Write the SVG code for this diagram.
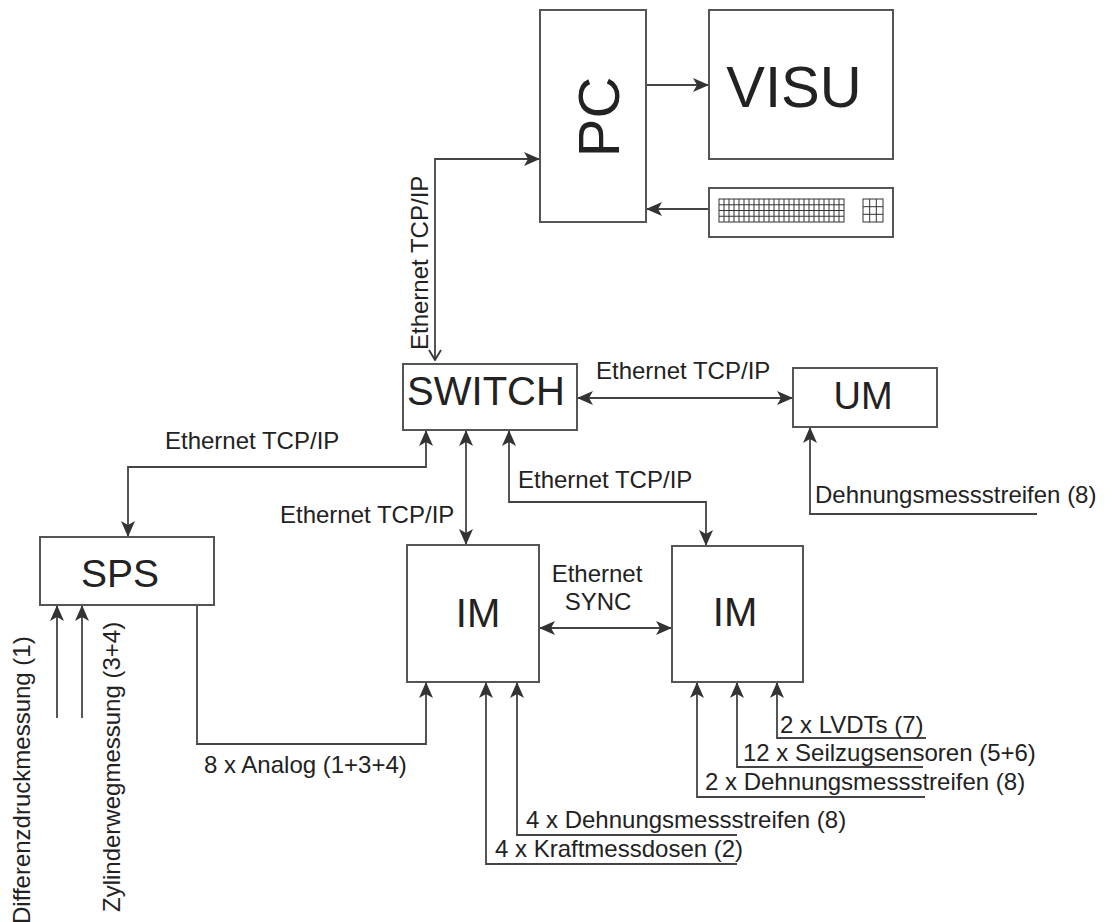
<svg xmlns="http://www.w3.org/2000/svg" width="1117" height="922" viewBox="0 0 1117 922">
<defs>
<style>
.box{fill:#fff;stroke:#555;stroke-width:2}
.ln{fill:none;stroke:#444;stroke-width:1.8}
.t{font-family:"Liberation Sans",Arial,sans-serif;fill:#222}
.lbl{font-size:24px}
.grid{fill:none;stroke:#333;stroke-width:1}
</style>
<marker id="ah" viewBox="0 0 16 14" markerWidth="16" markerHeight="14" refX="15" refY="7" orient="auto-start-reverse" markerUnits="userSpaceOnUse">
<path d="M0,0 L16,7 L0,14 L4,7 Z" fill="#333"/>
</marker>
<marker id="oa" viewBox="0 0 12 14" markerWidth="12" markerHeight="14" refX="11" refY="7" orient="auto-start-reverse" markerUnits="userSpaceOnUse">
<path d="M1,1 L11,7 L1,13" fill="none" stroke="#333" stroke-width="1.8"/>
</marker>
</defs>
<rect width="1117" height="922" fill="#fff"/>

<g id="connectors">
<line class="ln" x1="646" y1="85" x2="708" y2="85" marker-end="url(#ah)"/>
<line class="ln" x1="709" y1="209" x2="647" y2="209" marker-end="url(#ah)"/>
<path class="ln" d="M435,360 L435,159 L539,159" marker-start="url(#oa)" marker-end="url(#ah)"/>
<line class="ln" x1="578" y1="398" x2="792" y2="398" marker-start="url(#ah)" marker-end="url(#ah)"/>
<path class="ln" d="M128,536 L128,467 L426,467 L426,431" marker-start="url(#ah)" marker-end="url(#ah)"/>
<line class="ln" x1="466" y1="431" x2="466" y2="544" marker-start="url(#ah)" marker-end="url(#ah)"/>
<path class="ln" d="M509,431 L509,502 L706,502 L706,545" marker-start="url(#ah)" marker-end="url(#ah)"/>
<line class="ln" x1="540" y1="628" x2="671" y2="628" marker-start="url(#ah)" marker-end="url(#ah)"/>
<path class="ln" d="M197,605 L197,744 L426,744 L426,683" marker-end="url(#ah)"/>
<line class="ln" x1="57" y1="718" x2="57" y2="606" marker-end="url(#ah)"/>
<line class="ln" x1="82" y1="718" x2="82" y2="606" marker-end="url(#ah)"/>
<path class="ln" d="M737,864 L486,864 L486,683" marker-end="url(#ah)"/>
<path class="ln" d="M737,835 L517,835 L517,683" marker-end="url(#ah)"/>
<path class="ln" d="M925,797 L697,797 L697,683" marker-end="url(#ah)"/>
<path class="ln" d="M923,767 L737,767 L737,683" marker-end="url(#ah)"/>
<path class="ln" d="M926,738 L777,738 L777,683" marker-end="url(#ah)"/>
<path class="ln" d="M1037,514 L810,514 L810,428" marker-end="url(#ah)"/>
</g>

<g id="labels" class="t lbl">
<text x="596" y="379">Ethernet TCP/IP</text>
<text x="165" y="449">Ethernet TCP/IP</text>
<text x="280" y="523">Ethernet TCP/IP</text>
<text x="518" y="488">Ethernet TCP/IP</text>
<text transform="translate(428,350) rotate(-90)">Ethernet TCP/IP</text>
<text x="597" y="582" text-anchor="middle">Ethernet</text>
<text x="598" y="610" text-anchor="middle">SYNC</text>
<text x="204" y="773">8 x Analog (1+3+4)</text>
<text x="495" y="857">4 x Kraftmessdosen (2)</text>
<text x="526" y="828">4 x Dehnungsmessstreifen (8)</text>
<text x="780" y="733">2 x LVDTs (7)</text>
<text x="743" y="761">12 x Seilzugsensoren (5+6)</text>
<text x="705" y="790">2 x Dehnungsmessstreifen (8)</text>
<text x="815" y="503">Dehnungsmessstreifen (8)</text>
<text transform="translate(30,924) rotate(-90)">Differenzdruckmessung (1)</text>
<text transform="translate(120,912) rotate(-90)">Zylinderwegmessung (3+4)</text>
</g>

<g id="pc">
<rect class="box" x="540" y="10" width="106" height="212"/>
<text class="t" font-size="58" text-anchor="middle" transform="translate(619,117) rotate(-90)">PC</text>
</g>
<g id="visu">
<rect class="box" x="709" y="10" width="184" height="149"/>
<text class="t" x="794" y="107" font-size="58" text-anchor="middle">VISU</text>
</g>
<g id="keyboard">
<rect class="box" x="709" y="188" width="184" height="49"/>
<rect class="grid" x="719" y="199" width="125" height="23"/>
<path class="grid" d="M724,199V222M729,199V222M734,199V222M739,199V222M744,199V222M749,199V222M754,199V222M759,199V222M764,199V222M769,199V222M774,199V222M779,199V222M784,199V222M789,199V222M794,199V222M799,199V222M804,199V222M809,199V222M814,199V222M819,199V222M824,199V222M829,199V222M834,199V222M839,199V222M719,204.75H844M719,210.5H844M719,216.25H844"/>
<rect class="grid" x="863" y="199" width="20" height="23"/>
<path class="grid" d="M869.7,199V222M876.3,199V222M863,206.7H883M863,214.3H883"/>
</g>
<g id="switch">
<rect class="box" x="403" y="364" width="174" height="66"/>
<text class="t" x="486" y="405" font-size="40" text-anchor="middle">SWITCH</text>
</g>
<g id="um">
<rect class="box" x="793" y="368" width="144" height="59"/>
<text class="t" x="863" y="409" font-size="38" text-anchor="middle">UM</text>
</g>
<g id="sps">
<rect class="box" x="40" y="537" width="174" height="68"/>
<text class="t" x="120" y="587" font-size="39" text-anchor="middle">SPS</text>
</g>
<g id="im1">
<rect class="box" x="407" y="545" width="132" height="137"/>
<text class="t" x="478" y="627" font-size="40" text-anchor="middle">IM</text>
</g>
<g id="im2">
<rect class="box" x="672" y="546" width="131" height="136"/>
<text class="t" x="735" y="626" font-size="40" text-anchor="middle">IM</text>
</g>
</svg>
